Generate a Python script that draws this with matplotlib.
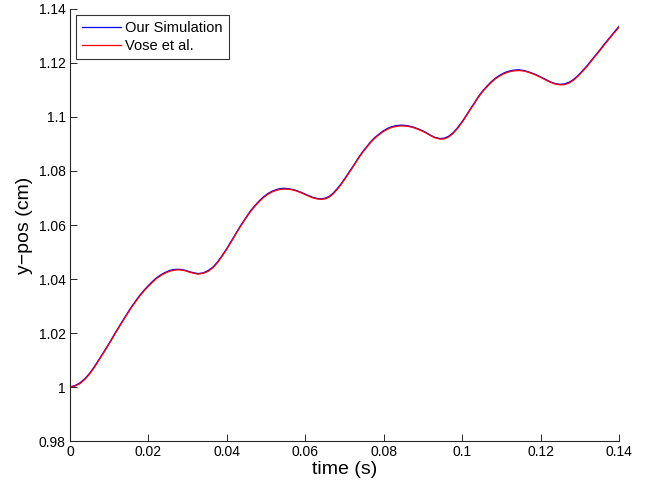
import matplotlib
matplotlib.use('Agg')
import matplotlib.pyplot as plt

# time (s) and y-position (cm)
t = [0.0, 0.0012, 0.0025, 0.0038, 0.0050, 0.0061, 0.0072, 0.0084, 0.0095, 0.0105,
     0.0115, 0.0126, 0.0136, 0.0147, 0.0157, 0.0168, 0.0178, 0.0189, 0.0200, 0.0211,
     0.0221, 0.0232, 0.0242, 0.0253, 0.0263, 0.0274, 0.0285, 0.0295, 0.0305, 0.0316,
     0.0327, 0.0340, 0.0352, 0.0365, 0.0376, 0.0387, 0.0398, 0.0408, 0.0419, 0.0429,
     0.0440, 0.0451, 0.0461, 0.0472, 0.0483, 0.0493, 0.0504, 0.0515, 0.0526, 0.0536,
     0.0548, 0.0560, 0.0575, 0.0590, 0.0605, 0.0620, 0.0632, 0.0642, 0.0652, 0.0662,
     0.0671, 0.0681, 0.0692, 0.0703, 0.0714, 0.0725, 0.0735, 0.0746, 0.0757, 0.0767,
     0.0778, 0.0789, 0.0799, 0.0810, 0.0820, 0.0831, 0.0845, 0.0860, 0.0875, 0.0890,
     0.0905, 0.0918, 0.0930, 0.0944, 0.0955, 0.0966, 0.0977, 0.0988, 0.1000, 0.1010,
     0.1020, 0.1031, 0.1041, 0.1052, 0.1063, 0.1073, 0.1084, 0.1095, 0.1105, 0.1115,
     0.1125, 0.1135, 0.1145, 0.1158, 0.1170, 0.1185, 0.1200, 0.1212, 0.1224, 0.1237,
     0.1250, 0.1262, 0.1273, 0.1284, 0.1295, 0.1306, 0.1318, 0.1329, 0.1340, 0.1352,
     0.1363, 0.1375, 0.1387, 0.1400]

vose_y = [1.0000, 1.0003, 1.0012, 1.0028, 1.0048, 1.0070, 1.0095, 1.0122, 1.0148, 1.0172,
          1.0197, 1.0223, 1.0247, 1.0272, 1.0295, 1.0317, 1.0337, 1.0356, 1.0373, 1.0389,
          1.0402, 1.0413, 1.0421, 1.0428, 1.0432, 1.0434, 1.0433, 1.0430, 1.0425, 1.0421,
          1.0418, 1.0421, 1.0428, 1.0442, 1.0460, 1.0482, 1.0506, 1.0530, 1.0556, 1.0581,
          1.0606, 1.0630, 1.0651, 1.0670, 1.0687, 1.0701, 1.0713, 1.0722, 1.0728, 1.0732,
          1.0733, 1.0732, 1.0727, 1.0719, 1.0709, 1.0700, 1.0696, 1.0695, 1.0697, 1.0704,
          1.0715, 1.0731, 1.0751, 1.0774, 1.0798, 1.0822, 1.0845, 1.0868, 1.0888, 1.0906,
          1.0922, 1.0935, 1.0946, 1.0955, 1.0961, 1.0965, 1.0967, 1.0966, 1.0961, 1.0953,
          1.0943, 1.0932, 1.0923, 1.0918, 1.0919, 1.0926, 1.0939, 1.0957, 1.0980, 1.1002,
          1.1025, 1.1049, 1.1072, 1.1093, 1.1111, 1.1126, 1.1140, 1.1151, 1.1159, 1.1165,
          1.1169, 1.1171, 1.1172, 1.1170, 1.1165, 1.1157, 1.1147, 1.1138, 1.1129, 1.1122,
          1.1119, 1.1120, 1.1126, 1.1136, 1.1150, 1.1167, 1.1186, 1.1206, 1.1226, 1.1247,
          1.1268, 1.1289, 1.1310, 1.1332]

sim_y = [1.0001, 1.0005, 1.0015, 1.0031, 1.0051, 1.0073, 1.0098, 1.0125, 1.0151, 1.0175,
         1.0200, 1.0226, 1.0250, 1.0275, 1.0298, 1.0320, 1.0340, 1.0359, 1.0376, 1.0392,
         1.0405, 1.0416, 1.0424, 1.0431, 1.0435, 1.0436, 1.0435, 1.0432, 1.0427, 1.0423,
         1.0420, 1.0423, 1.0431, 1.0445, 1.0463, 1.0485, 1.0509, 1.0533, 1.0559, 1.0584,
         1.0609, 1.0633, 1.0654, 1.0673, 1.0690, 1.0704, 1.0716, 1.0725, 1.0731, 1.0735,
         1.0736, 1.0734, 1.0729, 1.0721, 1.0711, 1.0702, 1.0698, 1.0697, 1.0700, 1.0707,
         1.0718, 1.0734, 1.0754, 1.0777, 1.0801, 1.0825, 1.0848, 1.0871, 1.0891, 1.0909,
         1.0925, 1.0938, 1.0949, 1.0958, 1.0964, 1.0968, 1.0970, 1.0968, 1.0963, 1.0955,
         1.0945, 1.0934, 1.0925, 1.0920, 1.0922, 1.0929, 1.0942, 1.0960, 1.0983, 1.1005,
         1.1028, 1.1052, 1.1075, 1.1096, 1.1114, 1.1129, 1.1143, 1.1154, 1.1162, 1.1168,
         1.1172, 1.1174, 1.1175, 1.1172, 1.1167, 1.1159, 1.1149, 1.1140, 1.1131, 1.1124,
         1.1121, 1.1123, 1.1129, 1.1139, 1.1153, 1.1170, 1.1189, 1.1209, 1.1229, 1.1250,
         1.1271, 1.1292, 1.1313, 1.1336]

xticks = [0, 0.02, 0.04, 0.06, 0.08, 0.1, 0.12, 0.14]
xlabels = ['0', '0.02', '0.04', '0.06', '0.08', '0.1', '0.12', '0.14']
yticks = [0.98, 1.0, 1.02, 1.04, 1.06, 1.08, 1.1, 1.12, 1.14]
ylabels = ['0.98', '1', '1.02', '1.04', '1.06', '1.08', '1.1', '1.12', '1.14']

plt.rcParams['font.family'] = ['Liberation Sans', 'DejaVu Sans']

fig = plt.figure(figsize=(6.5, 4.91), dpi=100)
ax = fig.add_axes([0.1077, 0.1018, 0.8446, 0.8799])

ax.plot(t, sim_y, color='#0000ff', lw=0.9, label='Our Simulation')
ax.plot(t, vose_y, color='#ff0000', lw=0.9, label='Vose et al.')

ax.set_xlim(0, 0.14)
ax.set_ylim(0.98, 1.14)
ax.set_xticks(xticks)
ax.set_xticklabels(xlabels)
ax.set_yticks(yticks)
ax.set_yticklabels(ylabels)
ax.tick_params(direction='in', length=5, width=0.7, labelsize=10, colors='#262626',
               labelcolor='black', pad=3)
ax.spines['top'].set_visible(False)
ax.spines['right'].set_visible(False)
for s in ['left', 'bottom']:
    ax.spines[s].set_linewidth(0.8)
    ax.spines[s].set_color('#262626')

ax.set_xlabel('time (s)', fontsize=14, labelpad=1)
ax.set_ylabel('y\u2212pos (cm)', fontsize=14, labelpad=4)

leg = ax.legend(loc='upper left', fontsize=10.5, frameon=True, fancybox=False,
                borderpad=0.4, handlelength=2.7, handletextpad=0.3,
                labelspacing=0.3, borderaxespad=0.4, bbox_to_anchor=(0.0, 1.0))
leg.get_frame().set_edgecolor('black')
leg.get_frame().set_linewidth(0.8)

fig.savefig('out.png', dpi=100)
